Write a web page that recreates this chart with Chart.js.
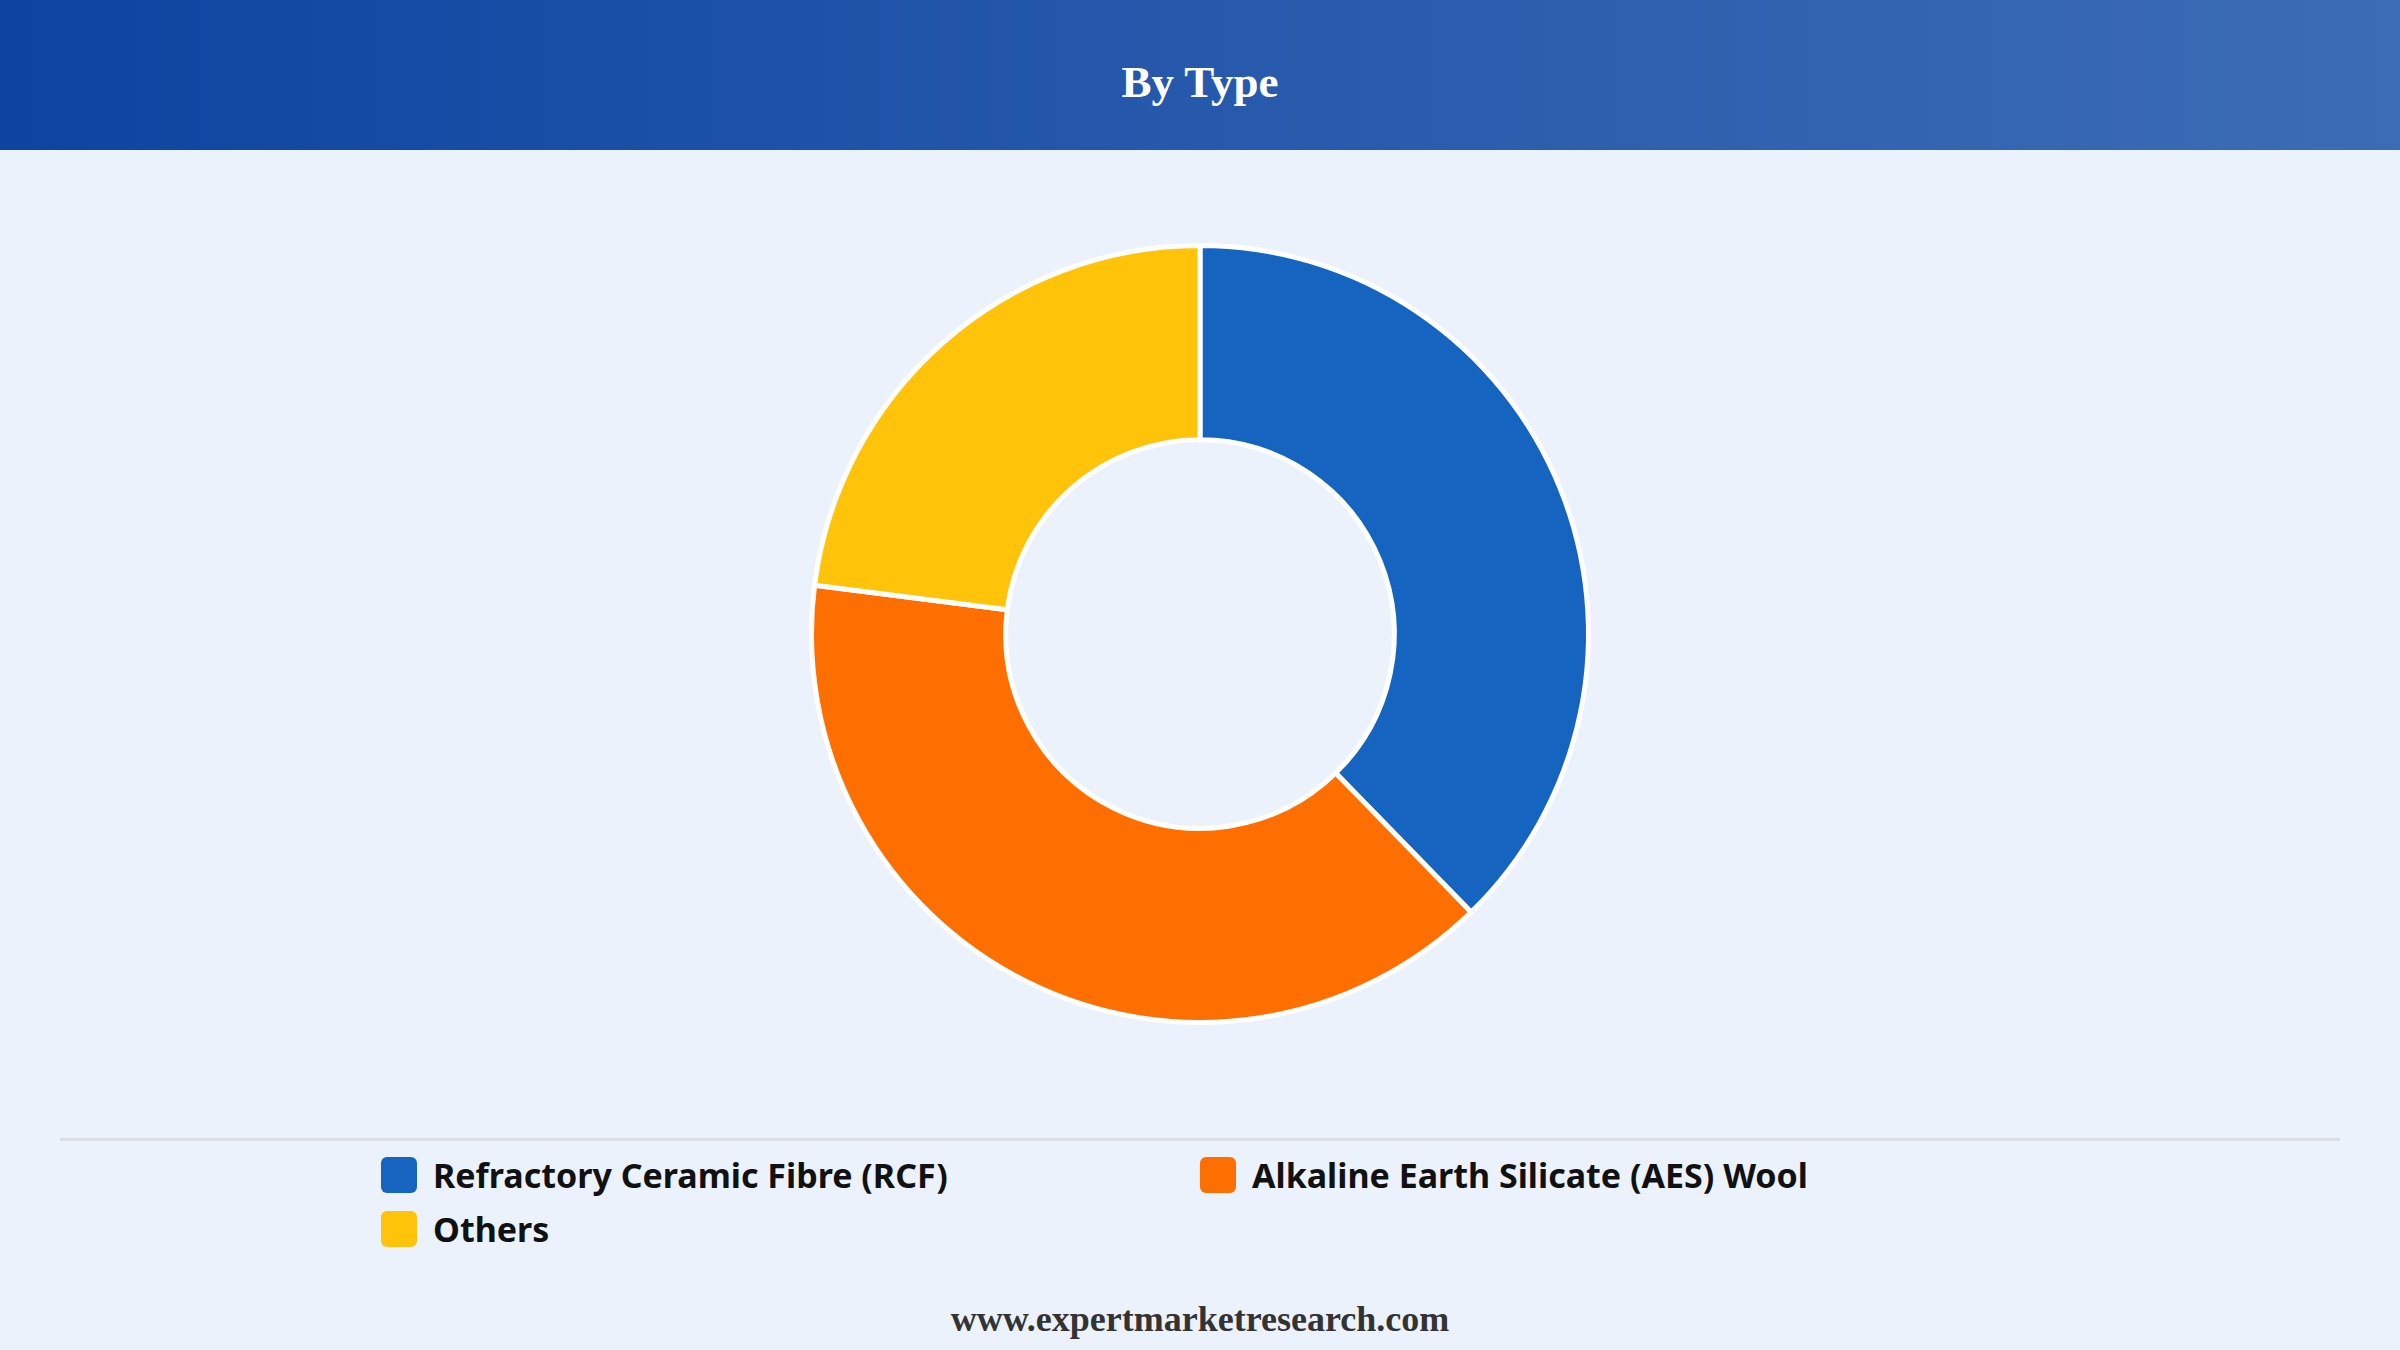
<!DOCTYPE html>
<html>
<head>
<meta charset="utf-8">
<script src="https://cdn.jsdelivr.net/npm/chart.js@4.4.1/dist/chart.umd.min.js"></script>
<style>
  html, body { margin: 0; padding: 0; }
  body {
    width: 2400px; height: 1350px; overflow: hidden; position: relative;
    background: #ebf2fc;
  }
  .header {
    position: absolute; left: 0; top: 0; width: 2400px; height: 150px;
    background: linear-gradient(90deg, #0c44a0 0%, #2457ab 45%, #3c6cb5 100%);
  }
  .header h1 {
    margin: 0; padding-top: 7px; line-height: 150px; text-align: center; color: #fff;
    font-family: "Liberation Serif", "Times New Roman", serif;
    font-weight: bold; font-size: 45px;
  }
  .chart-wrap { position: absolute; left: 0; top: 243px; width: 2400px; height: 782px; }
  .divider {
    position: absolute; left: 60px; top: 1138px; width: 2280px; height: 3px;
    background: #dadde3;
  }
  .legend { position: absolute; left: 381px; top: 1148px; width: 1700px; }
  .chart-legend-item {
    position: absolute; display: flex; align-items: center; height: 54px;
    font-family: "Noto Sans", "Open Sans", sans-serif; font-weight: bold;
    font-size: 34px; color: #111; white-space: nowrap;
  }
  .chart-legend-dot { width: 36px; height: 36px; border-radius: 6px; margin-right: 16px; }
  .footer {
    position: absolute; left: 0; top: 1298px; width: 2400px; text-align: center;
    font-family: "Liberation Serif", "Times New Roman", serif;
    font-weight: bold; font-size: 36px; color: #333;
  }
</style>
</head>
<body>
<div class="header"><h1>By Type</h1></div>
<div class="chart-wrap"><canvas id="chart-type-donut"></canvas></div>
<div class="divider"></div>
<div class="legend" id="chart-type-legend"></div>
<div class="footer">www.expertmarketresearch.com</div>

<script>
// ── Data ──
const categories = [
  'Refractory Ceramic Fibre (RCF)',
  'Alkaline Earth Silicate (AES) Wool',
  'Others'
];
const shares = [37.7, 39.3, 23.0];
const colors = ['#1565c0', '#ff6f00', '#ffc30a'];

// ── Donut ──
const donutCtx = document.getElementById('chart-type-donut');
new Chart(donutCtx, {
  type: 'doughnut',
  data: {
    labels: categories,
    datasets: [{
      data: shares,
      backgroundColor: colors,
      borderColor: '#ffffff',
      borderWidth: 5,
      hoverOffset: 0,
    }]
  },
  options: {
    responsive: true, maintainAspectRatio: false,
    animation: false,
    cutout: '50%',
    layout: { padding: 0 },
    plugins: {
      legend: { display: false },
      tooltip: { enabled: false }
    }
  }
});

// Custom legend: two columns
const legend = document.getElementById('chart-type-legend');
legend.innerHTML = categories.map((c, i) => {
  const col = i % 2, row = Math.floor(i / 2);
  return `<div class="chart-legend-item" style="left:${col * 819}px;top:${row * 54}px">
    <div class="chart-legend-dot" style="background:${colors[i]}"></div>
    <span>${c}</span>
  </div>`;
}).join('');
</script>
</body>
</html>
